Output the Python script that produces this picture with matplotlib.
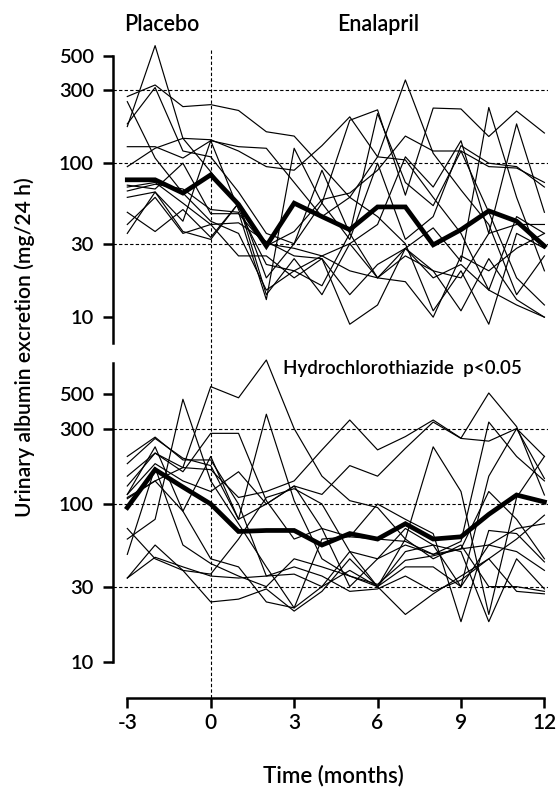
import matplotlib
matplotlib.use("Agg")
import matplotlib.pyplot as plt
from matplotlib.lines import Line2D

plt.rcParams['font.family'] = ['Lato', 'DejaVu Sans']
plt.rcParams['font.weight'] = 'semibold'

months = list(range(-3, 13))

# Enalapril group (top panel), mg/24 h
top_mean = [78, 78, 64, 84, 54, 29, 55, 45, 37, 52, 52, 29.5, 37, 49, 42, 29]
top_thin = [
    [173, 580, 145, 88, 52, 30, 28, 25, 20, 18, 28, 20, 11, 24, 13, 10],
    [271, 322, 233, 240, 220, 160, 150, 95, 60, 45, 30, 11, 20, 9, 35, 28],
    [251, 108, 64, 42, 35, 15, 20, 25, 30, 18, 25, 20, 18, 35, 40, 40],
    [128, 128, 108, 140, 128, 125, 75, 45, 60, 110, 105, 60, 35, 15, 45, 35],
    [95, 125, 145, 142, 120, 95, 90, 130, 200, 110, 347, 116, 67, 40, 14, 25],
    [66, 73, 68, 50, 48, 13, 125, 55, 32, 100, 32, 45, 130, 100, 95, 70],
    [70, 75, 55, 40, 41, 31, 25, 24, 9, 12, 28, 18, 22, 15, 12, 10],
    [48, 36, 50, 33, 55, 18, 30, 90, 35, 210, 75, 53, 120, 48, 18, 12],
    [35, 65, 42, 140, 50, 22, 20, 16, 35, 18, 17, 10, 25, 20, 28, 35],
    [40, 60, 35, 40, 25, 25, 18, 24, 14, 22, 28, 38, 23, 230, 60, 20],
    [72, 68, 100, 47, 47, 29, 36, 58, 64, 90, 150, 120, 120, 95, 93, 75],
    [60, 65, 36, 32, 55, 14, 24, 14, 30, 40, 110, 70, 140, 35, 180, 48],
    [180, 310, 120, 110, 65, 35, 30, 55, 190, 222, 62, 228, 225, 149, 218, 157],
]

# Hydrochlorothiazide group (bottom panel)
bot_mean = [95, 165, 128, 100, 67, 68, 68, 55, 65, 60, 75, 60, 62, 86, 114, 103]
bot_thin = [
    [180, 260, 195, 175, 80, 100, 130, 115, 175, 150, 225, 330, 260, 250, 300, 200],
    [130, 210, 170, 553, 470, 815, 300, 150, 105, 95, 60, 45, 55, 30, 30, 28],
    [115, 230, 90, 200, 80, 370, 105, 45, 35, 30, 50, 55, 50, 18, 45, 29],
    [110, 140, 170, 165, 110, 120, 140, 220, 340, 220, 267, 340, 261, 504, 309, 114],
    [60, 80, 460, 140, 75, 40, 22, 60, 62, 60, 58, 48, 52, 120, 80, 45],
    [48, 170, 55, 42, 35, 30, 45, 40, 35, 31, 44, 47, 52, 55, 70, 75],
    [70, 45, 38, 36, 60, 110, 125, 100, 50, 45, 70, 55, 30, 150, 300, 145],
    [34, 46, 40, 35, 34, 35, 40, 35, 28, 29, 35, 28, 33, 45, 28, 27],
    [34, 55, 38, 24, 25, 29, 21, 28, 45, 30, 20, 27, 35, 45, 60, 85],
    [150, 210, 160, 280, 280, 105, 60, 70, 62, 100, 80, 65, 18, 68, 65, 43],
    [200, 265, 190, 190, 100, 35, 36, 30, 50, 30, 40, 40, 30, 55, 50, 38],
    [108, 140, 90, 45, 40, 24, 22, 30, 38, 30, 60, 230, 120, 20, 110, 200],
    [115, 180, 140, 120, 160, 100, 130, 70, 30, 45, 55, 48, 58, 330, 200, 140],
]

ytick_vals = [10, 30, 100, 300, 500]
ytick_labels = ['10', '30', '100', '300', '500']
xtick_vals = [-3, 0, 3, 6, 9, 12]
xtick_labels = ['-3', '0', '3', '6', '9', '12']

fig = plt.figure(figsize=(5.6, 7.87), dpi=100)
ax1 = fig.add_axes([0.2023, 0.5642, 0.7763, 0.3875])
ax2 = fig.add_axes([0.2023, 0.1588, 0.7763, 0.3924])

dash = (0, (3, 2))


def panel(ax, thin, mean, ylim, spine_lo, spine_hi):
    ax.set_yscale('log')
    ax.set_xlim(-3.504, 12.13)
    ax.set_ylim(*ylim)
    for v in [30, 100, 300]:
        ax.axhline(v, color='black', lw=0.8, ls=dash, zorder=1)
    for s in thin:
        ax.plot(months, s, color='black', lw=0.85, zorder=2)
    ax.plot(months, mean, color='black', lw=3.4, solid_joinstyle='miter', zorder=3)
    ax.set_yticks(ytick_vals)
    ax.set_yticklabels(ytick_labels)
    ax.minorticks_off()
    ax.tick_params(axis='y', length=7, width=1.8, labelsize=14.5, pad=7)
    for side in ['top', 'right']:
        ax.spines[side].set_visible(False)
    ax.spines['left'].set_linewidth(1.8)
    ax.spines['left'].set_bounds(spine_lo, spine_hi)
    ax.patch.set_visible(False)


panel(ax1, top_thin, top_mean, (6.8, 650), 6.8, 500)
ax1.spines['bottom'].set_visible(False)
ax1.set_xticks([])

panel(ax2, bot_thin, bot_mean, (10, 900), 10, 780)
ax2.spines['bottom'].set_position(('outward', 26))
ax2.spines['bottom'].set_bounds(-3, 12)
ax2.spines['bottom'].set_linewidth(1.8)
ax2.set_xticks(xtick_vals)
ax2.set_xticklabels(xtick_labels)
ax2.tick_params(axis='x', length=7.5, width=1.8, labelsize=15, pad=3)

# treatment start marker
fig.add_artist(Line2D([0.3763, 0.3763], [0.9365, 0.1131], color='black',
                      lw=0.8, ls=dash, transform=fig.transFigure))

fig.text(0.289, 0.969, 'Placebo', fontsize=15.5, ha='center', va='center')
fig.text(0.675, 0.969, 'Enalapril', fontsize=15.5, ha='center', va='center')
fig.text(0.505, 0.532, 'Hydrochlorothiazide  p<0.05', fontsize=13.5,
         ha='left', va='center')
fig.text(0.045, 0.559, 'Urinary albumin excretion (mg/24 h)', fontsize=15.2,
         rotation=90, ha='center', va='center')
fig.text(0.5946, 0.0145, 'Time (months)', fontsize=16, ha='center', va='center')

plt.savefig('out.png', dpi=100)
